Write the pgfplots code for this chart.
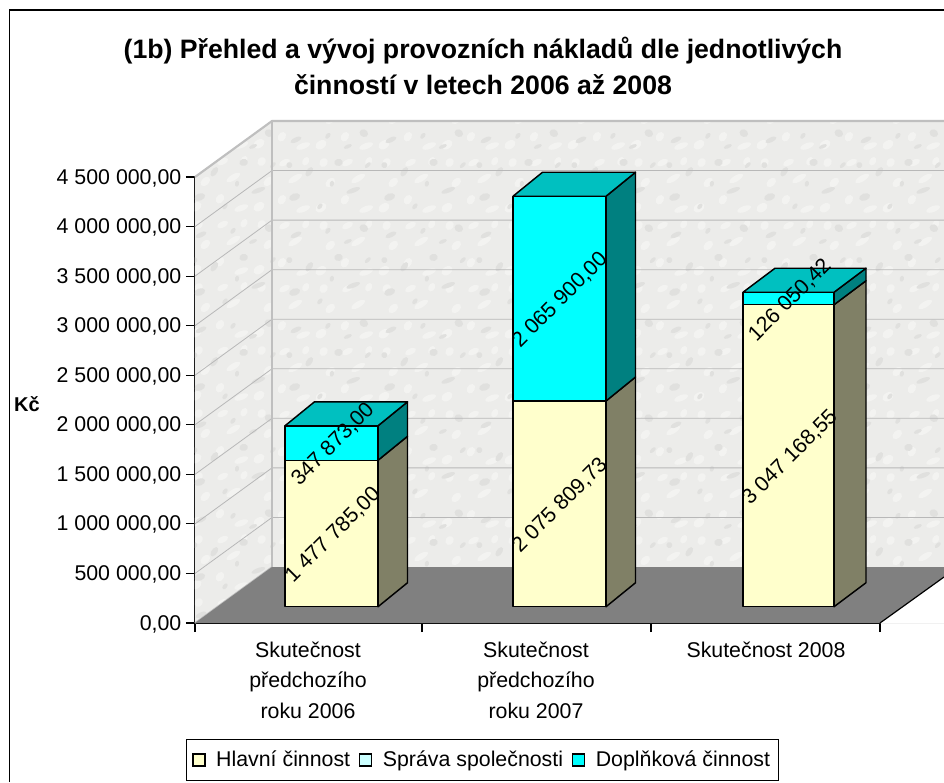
\documentclass[border=0pt]{standalone}
\usepackage{fontspec}
\setmainfont{Liberation Sans}
\usepackage{pgfplots}
\pgfplotsset{compat=1.18}
\usetikzlibrary{patterns}

% 1 px of the reference = 0.75pt, 1 px in y = 10090 Kc
\definecolor{wall}{HTML}{ECECEA}
\definecolor{spots}{HTML}{E0E0DE}
\definecolor{lightspots}{HTML}{F3F3F1}
\definecolor{hlavni}{HTML}{FFFFCC}
\definecolor{hlavniside}{HTML}{808066}
\definecolor{sprava}{HTML}{CCFFFF}
\definecolor{doplnkova}{HTML}{00FFFF}
\definecolor{doplnkovaside}{HTML}{008080}
\definecolor{doplnkovatop}{HTML}{00C0C0}

\pgfdeclarepatternformonly{granite}{\pgfpoint{0pt}{0pt}}{\pgfpoint{71pt}{71pt}}{\pgfpoint{71pt}{71pt}}{
  \pgfpathellipse{\pgfpoint{8pt}{12pt}}{\pgfpoint{4pt}{1.5pt}}{\pgfpoint{-1pt}{2.5pt}}
  \pgfpathellipse{\pgfpoint{27pt}{5pt}}{\pgfpoint{2pt}{1pt}}{\pgfpoint{0pt}{2pt}}
  \pgfpathellipse{\pgfpoint{52pt}{17pt}}{\pgfpoint{5pt}{2pt}}{\pgfpoint{-1pt}{1.5pt}}
  \pgfpathellipse{\pgfpoint{19pt}{31pt}}{\pgfpoint{1.5pt}{3.5pt}}{\pgfpoint{2.5pt}{0pt}}
  \pgfpathellipse{\pgfpoint{41pt}{38pt}}{\pgfpoint{3pt}{1pt}}{\pgfpoint{-1pt}{2.5pt}}
  \pgfpathellipse{\pgfpoint{9pt}{55pt}}{\pgfpoint{4pt}{2pt}}{\pgfpoint{-1pt}{1.5pt}}
  \pgfpathellipse{\pgfpoint{60pt}{60pt}}{\pgfpoint{2.5pt}{1.5pt}}{\pgfpoint{-2pt}{2.5pt}}
  \pgfpathellipse{\pgfpoint{33pt}{58pt}}{\pgfpoint{2pt}{1pt}}{\pgfpoint{0pt}{2pt}}
  \pgfpathellipse{\pgfpoint{63pt}{36pt}}{\pgfpoint{2pt}{2pt}}{\pgfpoint{-1pt}{1pt}}
  \pgfpathellipse{\pgfpoint{36pt}{22pt}}{\pgfpoint{1.5pt}{1pt}}{\pgfpoint{-0.5pt}{2pt}}
  \pgfpathellipse{\pgfpoint{48pt}{50pt}}{\pgfpoint{3pt}{1pt}}{\pgfpoint{0pt}{1.5pt}}
  \pgfpathellipse{\pgfpoint{4pt}{36pt}}{\pgfpoint{2pt}{1pt}}{\pgfpoint{-1pt}{2pt}}
  \pgfusepath{fill}
}
\pgfdeclarepatternformonly{graniteb}{\pgfpoint{0pt}{0pt}}{\pgfpoint{47pt}{47pt}}{\pgfpoint{47pt}{47pt}}{
  \pgfpathellipse{\pgfpoint{6pt}{7pt}}{\pgfpoint{4pt}{2pt}}{\pgfpoint{-1pt}{3pt}}
  \pgfpathellipse{\pgfpoint{24pt}{13pt}}{\pgfpoint{3pt}{2pt}}{\pgfpoint{1pt}{-3pt}}
  \pgfpathellipse{\pgfpoint{40pt}{6pt}}{\pgfpoint{5pt}{2pt}}{\pgfpoint{-1pt}{2pt}}
  \pgfpathellipse{\pgfpoint{13pt}{26pt}}{\pgfpoint{3pt}{3pt}}{\pgfpoint{-2pt}{2pt}}
  \pgfpathellipse{\pgfpoint{34pt}{29pt}}{\pgfpoint{5pt}{3pt}}{\pgfpoint{-1pt}{2pt}}
  \pgfpathellipse{\pgfpoint{8pt}{41pt}}{\pgfpoint{3pt}{1.5pt}}{\pgfpoint{-1pt}{3pt}}
  \pgfpathellipse{\pgfpoint{26pt}{41pt}}{\pgfpoint{4pt}{2pt}}{\pgfpoint{-1pt}{2pt}}
  \pgfpathellipse{\pgfpoint{42pt}{42pt}}{\pgfpoint{2.5pt}{2pt}}{\pgfpoint{-1pt}{2.5pt}}
  \pgfusepath{fill}
}

\begin{document}
\begin{tikzpicture}
\clip (-146.25pt,-119.25pt) rectangle (561.75pt,467.25pt);
\fill[white] (-146.25pt,-119.25pt) rectangle (561.75pt,467.25pt);
\draw[line width=1.1pt] (-139.1pt,-119.25pt) -- (-139.1pt,459.75pt) -- (561.75pt,459.75pt);
\begin{axis}[
  scale only axis,
  width=513.75pt, height=334.5pt,
  xmin=195, xmax=880,
  ymin=0, ymax=4500000,
  clip=false,
  axis x line=bottom, axis y line=left,
  axis line style={-, line width=0.9pt, black},
  tick align=outside,
  major tick length=6.75pt, minor tick length=6.75pt,
  tick style={black, line width=0.8pt},
  major x tick style={draw=none},
  xtick={308,536,766},
  minor xtick={195,422,651,880},
  xticklabels={{Skutečnost\\předchozího\\roku 2006},{Skutečnost\\předchozího\\roku 2007},{Skutečnost 2008}},
  x tick label style={align=center, font=\fontsize{16}{22.9}\selectfont, anchor=north, yshift=-3.75pt},
  ytick={0,500000,...,4500000},
  yticklabels={{0,00},{500 000,00},{1 000 000,00},{1 500 000,00},{2 000 000,00},{2 500 000,00},{3 000 000,00},{3 500 000,00},{4 000 000,00},{4 500 000,00}},
  y tick label style={font=\fontsize{16}{19}\selectfont, yshift=-0.7pt},
  scaled y ticks=false,
  ylabel={Kč},
  ylabel style={at={(axis cs:27,2210000)}, rotate=-90, anchor=center, font=\fontsize{15}{18}\selectfont\bfseries},
  title={(1b) Přehled a vývoj provozních nákladů dle jednotlivých\\činností v letech 2006 až 2008},
  title style={at={(axis cs:483,5540000)}, anchor=center, align=center, font=\fontsize{20}{27}\selectfont\bfseries},
  legend columns=3,
  legend cell align=left,
  legend style={at={(axis cs:482.5,-1382000)}, anchor=center, draw=black, line width=0.8pt,
    font=\fontsize{16}{19}\selectfont, inner xsep=4pt, inner ysep=6.5pt,
    /tikz/every even column/.append style={column sep=4.5pt},
    /tikz/every odd column/.append style={column sep=6pt}},
  legend image code/.code={\draw[#1, line width=1pt] (0pt,-4.5pt) rectangle (9pt,4.5pt);},
  face/.style={forget plot, yshift=12.2pt, draw=black, line width=1.1pt, line join=round},
  label/.style={forget plot, yshift=11pt, draw=none, mark=none, point meta=explicit symbolic,
    nodes near coords, every node near coord/.append style={rotate=45, anchor=center,
      font=\fontsize{16}{19}\selectfont, black}},
]
% walls
\addplot[forget plot, fill=wall, draw=none] coordinates {(195,0)(272,565000)(272,5065000)(195,4500000)} --cycle;
\addplot[forget plot, pattern=graniteb, pattern color=lightspots, draw=none] coordinates {(195,0)(272,565000)(272,5065000)(195,4500000)} --cycle;
\addplot[forget plot, pattern=granite, pattern color=spots, draw=none] coordinates {(195,0)(272,565000)(272,5065000)(195,4500000)} --cycle;
\addplot[forget plot, fill=wall, draw=none] coordinates {(272,565000)(960,565000)(960,5065000)(272,5065000)} --cycle;
\addplot[forget plot, pattern=graniteb, pattern color=lightspots, draw=none] coordinates {(272,565000)(960,565000)(960,5065000)(272,5065000)} --cycle;
\addplot[forget plot, pattern=granite, pattern color=spots, draw=none] coordinates {(272,565000)(960,565000)(960,5065000)(272,5065000)} --cycle;
% grid lines
\addplot[forget plot, color=black!28, line width=0.6pt] coordinates {(195,500000)(272,1065000)(960,1065000)};
\addplot[forget plot, color=black!28, line width=0.6pt] coordinates {(195,1000000)(272,1565000)(960,1565000)};
\addplot[forget plot, color=black!28, line width=0.6pt] coordinates {(195,1500000)(272,2065000)(960,2065000)};
\addplot[forget plot, color=black!28, line width=0.6pt] coordinates {(195,2000000)(272,2565000)(960,2565000)};
\addplot[forget plot, color=black!28, line width=0.6pt] coordinates {(195,2500000)(272,3065000)(960,3065000)};
\addplot[forget plot, color=black!28, line width=0.6pt] coordinates {(195,3000000)(272,3565000)(960,3565000)};
\addplot[forget plot, color=black!28, line width=0.6pt] coordinates {(195,3500000)(272,4065000)(960,4065000)};
\addplot[forget plot, color=black!28, line width=0.6pt] coordinates {(195,4000000)(272,4565000)(960,4565000)};
% wall edges
\addplot[forget plot, color=black!25, line width=1.6pt] coordinates {(195,4500000)(272,5065000)(960,5065000)};
\addplot[forget plot, color=black!25, line width=1.6pt] coordinates {(272,5065000)(272,565000)};
\addplot[forget plot, color=black!25, line width=1.2pt] coordinates {(195,0)(272,565000)};
% floor
\addplot[forget plot, fill=black!50, draw=none] coordinates {(195,0)(272,565000)(960,565000)(960,0)} --cycle;
\addplot[forget plot, fill=white, draw=none] coordinates {(880,-1000)(960,-1000)(960,450000)(944,464000)} --cycle;
\addplot[forget plot, color=black, line width=0.9pt] coordinates {(880,0)(944,464000)};

% bar 2006
\addplot[face, fill=hlavniside] coordinates {(378,0)(407.5,242000)(407.5,1719785)(378,1477785)} --cycle;
\addplot[face, fill=doplnkovaside] coordinates {(378,1477785)(407.5,1719785)(407.5,2067658)(378,1825658)} --cycle;
\addplot[face, fill=doplnkovatop] coordinates {(285,1825658)(378,1825658)(407.5,2067658)(314.5,2067658)} --cycle;
\addplot[face, fill=hlavni] coordinates {(285,0)(378,0)(378,1477785)(285,1477785)} --cycle;
\addplot[face, fill=doplnkova] coordinates {(285,1477785)(378,1477785)(378,1825658)(285,1825658)} --cycle;
% bar 2007
\addplot[face, fill=hlavniside] coordinates {(606,0)(635.5,242000)(635.5,2317810)(606,2075810)} --cycle;
\addplot[face, fill=doplnkovaside] coordinates {(606,2075810)(635.5,2317810)(635.5,4383710)(606,4141710)} --cycle;
\addplot[face, fill=doplnkovatop] coordinates {(513,4141710)(606,4141710)(635.5,4383710)(542.5,4383710)} --cycle;
\addplot[face, fill=hlavni] coordinates {(513,0)(606,0)(606,2075810)(513,2075810)} --cycle;
\addplot[face, fill=doplnkova] coordinates {(513,2075810)(606,2075810)(606,4141710)(513,4141710)} --cycle;
% bar 2008
\addplot[face, fill=hlavniside] coordinates {(834,0)(866,242000)(866,3289168)(834,3047168)} --cycle;
\addplot[face, fill=doplnkovaside] coordinates {(834,3047168)(866,3289168)(866,3415218)(834,3173218)} --cycle;
\addplot[face, fill=doplnkovatop] coordinates {(743,3173218)(834,3173218)(866,3415218)(775,3415218)} --cycle;
\addplot[face, fill=hlavni] coordinates {(743,0)(834,0)(834,3047168)(743,3047168)} --cycle;
\addplot[face, fill=doplnkova] coordinates {(743,3047168)(834,3047168)(834,3173218)(743,3173218)} --cycle;

% value labels
\addplot[label] coordinates {
  (333,738892)[1 477 785,00]
  (333,1651721)[347 873,00]
  (560,1037905)[2 075 809,73]
  (560,3108760)[2 065 900,00]
  (790,1523584)[3 047 168,55]
  (790,3110193)[126 050,42]
};

\addlegendimage{fill=hlavni}
\addlegendentry{Hlavní činnost}
\addlegendimage{fill=sprava}
\addlegendentry{Správa společnosti}
\addlegendimage{fill=doplnkova}
\addlegendentry{Doplňková činnost}
\end{axis}
\end{tikzpicture}
\end{document}
